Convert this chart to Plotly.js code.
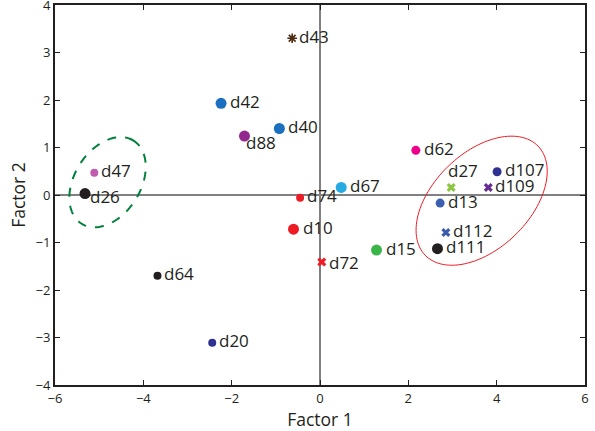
<!DOCTYPE html>
<html>
<head>
<meta charset="utf-8">
<script src="https://cdn.plot.ly/plotly-3.0.1.min.js"></script>
<style>html,body{margin:0;padding:0;background:#fff;}#chart{width:595px;height:431px;}</style>
</head>
<body>
<div id="chart"></div>
<script>
// ---- data ----
const labels = ["d43","d42","d40","d88","d47","d26","d74","d67","d10","d72","d15","d64","d20","d62","d27","d107","d109","d13","d112","d111"];
const factor1 = [-0.63,-2.24,-0.92,-1.71,-5.11,-5.32,-0.45,0.48,-0.60,0.04,1.28,-3.68,-2.44,2.17,2.97,4.01,3.81,2.72,2.85,2.66];
const factor2 = [3.30,1.93,1.40,1.24,0.47,0.03,-0.06,0.16,-0.72,-1.41,-1.16,-1.70,-3.11,0.94,0.16,0.49,0.16,-0.17,-0.79,-1.13];
const xTicks = [-6,-4,-2,0,2,4,6];
const yTicks = [-4,-3,-2,-1,0,1,2,3,4];

// ---- styles ----
const colors = ["#4d2a12","#1a6fbe","#1a6fbe","#92278f","#c15cae","#231f20","#ed1c24","#27aae1","#ed1c24","#ed1c24","#39b54a","#231f20","#2e3192","#ec008c","#8dc63f","#2e3192","#662d91","#3a5fb0","#3b5bab","#231f20"];
const symbols = ["asterisk-open","circle","circle","circle","circle","circle","circle","circle","circle","x","circle","circle","circle","circle","x","circle","x","circle","x","circle"];
const sizes = [8,11,11,11,8,11,8,11,11,8,11,8,8,9,8,9,8,9,8,11];
// label placement: [xshift, yshift] in px relative to the point, text anchored left/middle
const labelShift = [[5,2],[7,2],[7,2],[0,-6],[5,2],[3,-3],[5,2],[7,2],[7,2],[5,-1],[7,2],[5,2],[5,2],[6,2],[-5,17],[6,2],[5,2],[6,2],[5,2],[7,2]];

const W = 595, H = 431;
const margin = {l:55, r:10, t:5, b:46};
const xRange = [-6,6], yRange = [-4,4];
const pxX = (W - margin.l - margin.r) / (xRange[1]-xRange[0]);
const pxY = (H - margin.t - margin.b) / (yRange[1]-yRange[0]);

function ellipsePath(cx, cy, aPx, bPx, angDeg) {
  const t = angDeg*Math.PI/180;
  let d = "";
  for (let i = 0; i <= 120; i++) {
    const u = 2*Math.PI*i/120;
    const ex = aPx*Math.cos(u), ey = bPx*Math.sin(u);
    const px = ex*Math.cos(t) - ey*Math.sin(t);
    const py = ex*Math.sin(t) + ey*Math.cos(t);
    const x = cx + px/pxX, y = cy + py/pxY;
    d += (i===0 ? "M" : "L") + x.toFixed(4) + "," + y.toFixed(4) + " ";
  }
  return d + "Z";
}

const trace = {
  x: factor1, y: factor2,
  mode: "markers", type: "scatter",
  marker: {
    symbol: symbols, size: sizes, color: colors, opacity: 1,
    line: {color: colors, width: symbols.map(s => s === "asterisk-open" ? 1.6 : 0)}
  },
  cliponaxis: false,
  hoverinfo: "none"
};

const annotations = labels.map((t, i) => ({
  x: factor1[i], y: factor2[i], xref: "x", yref: "y", text: t, showarrow: false,
  xanchor: "left", yanchor: "middle", xshift: labelShift[i][0], yshift: labelShift[i][1],
  font: {family: "Open Sans, sans-serif", size: 17, color: "#231f20"}
}));

const axisCommon = {
  showgrid: false, zeroline: true, zerolinecolor: "#808080", zerolinewidth: 1.5,
  showline: true, linecolor: "#231f20", linewidth: 2, mirror: "ticks",
  ticks: "inside", ticklen: 5, tickwidth: 1, tickcolor: "#231f20",
  ticklabeloverflow: "allow",
  tickfont: {family: "Open Sans, sans-serif", size: 13, color: "#231f20"},
  fixedrange: true
};

const layout = {
  width: W, height: H, margin: margin,
  paper_bgcolor: "#fff", plot_bgcolor: "#fff",
  showlegend: false,
  annotations: annotations,
  xaxis: Object.assign({}, axisCommon, {range: xRange, tickvals: xTicks,
    title: {text: "Factor 1", font: {family: "Open Sans, sans-serif", size: 17.5, color: "#231f20"}, standoff: 3}}),
  yaxis: Object.assign({}, axisCommon, {range: yRange, tickvals: yTicks,
    title: {text: "Factor 2", font: {family: "Open Sans, sans-serif", size: 17.5, color: "#231f20"}, standoff: 5}}),
  shapes: [
    {type: "path", xref: "x", yref: "y", path: ellipsePath(-4.81, 0.27, 49, 33, 58), line: {color: "#00803c", width: 2, dash: "dash"}, layer: "above"},
    {type: "path", xref: "x", yref: "y", path: ellipsePath(3.66, -0.12, 78.5, 48, 44), line: {color: "#ed1c24", width: 1}, layer: "above"}
  ]
};

Plotly.newPlot("chart", [trace], layout, {displayModeBar: false, staticPlot: true});
</script>
</body>
</html>
